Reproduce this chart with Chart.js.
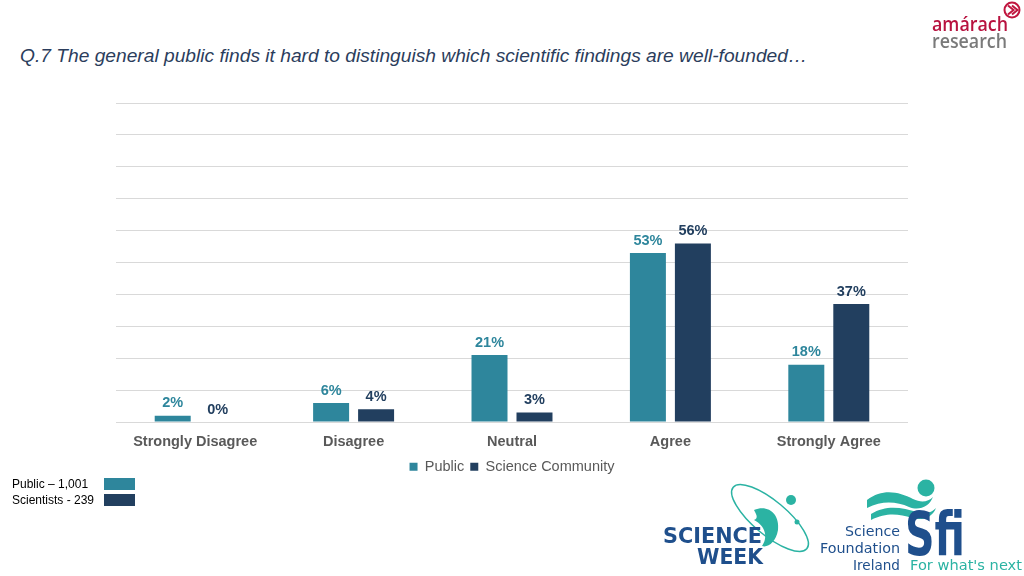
<!DOCTYPE html>
<html>
<head>
<meta charset="utf-8">
<script src="https://cdn.jsdelivr.net/npm/chart.js@4"></script>
<style>
  html, body { margin:0; padding:0; background:#fff; }
  body { width:1024px; height:576px; position:relative; overflow:hidden; font-family:"Liberation Sans", Arial, sans-serif; }
  #chartWrap { position:absolute; left:0; top:0; width:1024px; height:484px; }
  .title { position:absolute; left:20px; top:45px; font-size:19.2px; font-style:italic; color:#2b3d5c; white-space:nowrap; }
  .side { position:absolute; left:12px; font-size:12px; color:#000; }
  .swatch { position:absolute; left:104px; width:31px; height:12px; }
  .logo { position:absolute; }
</style>
</head>
<body>
<div class="title">Q.7 The general public finds it hard to distinguish which scientific findings are well-founded…</div>

<div id="chartWrap"><canvas id="chart" width="1024" height="484"></canvas></div>

<div class="side" style="top:477px">Public – 1,001</div>
<div class="side" style="top:493px">Scientists - 239</div>
<div class="swatch" style="top:478px;background:#2e869c"></div>
<div class="swatch" style="top:494px;background:#223f5f"></div>

<!-- amarach research logo -->
<svg class="logo" style="left:920px;top:0" width="104" height="56">
  <circle cx="92" cy="10" r="7.5" fill="none" stroke="#c0163f" stroke-width="2"/>
  <path d="M88 5.5 L93.5 10 L88 14.5 M92 5.5 L97.5 10 L92 14.5" fill="none" stroke="#c0163f" stroke-width="2"/>
  <text x="12" y="31" font-family="Open Sans" font-weight="600" font-size="19" fill="#b8123f" textLength="76" lengthAdjust="spacingAndGlyphs">amárach</text>
  <text x="12" y="48" font-family="Open Sans" font-weight="600" font-size="19" fill="#7a7a7a" textLength="75" lengthAdjust="spacingAndGlyphs">research</text>
</svg>

<!-- science week logo -->
<svg class="logo" style="left:660px;top:480px" width="160" height="96">
  <ellipse cx="110" cy="38" rx="48" ry="17" transform="rotate(40 110 38)" fill="none" stroke="#2bb3a3" stroke-width="1.5"/>
  <path d="M94 30 C 108 24 120 34 118 50 C 116 62 108 68 102 66 C 108 58 106 46 94 40 C 99 38 96 34 94 30 Z" fill="#2bb3a3"/>
  <circle cx="131" cy="20" r="5" fill="#2bb3a3"/>
  <circle cx="137" cy="42" r="2.5" fill="#2bb3a3"/>
  <text x="3" y="63" font-family="DejaVu Sans" font-weight="bold" font-size="21" fill="#1f4f8c" textLength="99" lengthAdjust="spacingAndGlyphs">SCIENCE</text>
  <text x="37" y="84" font-family="DejaVu Sans" font-weight="bold" font-size="21" fill="#1f4f8c" textLength="66" lengthAdjust="spacingAndGlyphs">WEEK</text>
</svg>

<!-- sfi logo -->
<svg class="logo" style="left:815px;top:472px" width="209" height="104">
  <path d="M52 28 C 68 16 84 20 98 27 C 106 31 113 30 118 25 C 114 35 104 39 94 35 C 82 30 68 28 52 36 Z" fill="#2bb3a3"/>
  <path d="M56 42 C 72 32 88 36 102 40 C 111 43 117 40 121 36 C 117 46 107 49 97 46 C 84 42 72 40 56 48 Z" fill="#2bb3a3"/>
  <circle cx="111" cy="16" r="8.5" fill="#2bb3a3"/>
  <text x="85" y="64" text-anchor="end" font-family="DejaVu Sans" font-size="14.5" fill="#1f4f8c" textLength="55" lengthAdjust="spacingAndGlyphs">Science</text>
  <text x="85" y="81" text-anchor="end" font-family="DejaVu Sans" font-size="14.5" fill="#1f4f8c" textLength="80" lengthAdjust="spacingAndGlyphs">Foundation</text>
  <text x="85" y="98" text-anchor="end" font-family="DejaVu Sans" font-size="14.5" fill="#1f4f8c" textLength="47" lengthAdjust="spacingAndGlyphs">Ireland</text>
  <text x="90" y="83" font-family="DejaVu Sans" font-weight="bold" font-size="60" fill="#1f4f8c" textLength="60" lengthAdjust="spacingAndGlyphs">Sfi</text>
  <text x="95" y="98" font-family="DejaVu Sans" font-size="14.5" fill="#2bb3a3" textLength="112" lengthAdjust="spacingAndGlyphs">For what's next</text>
</svg>

<script>
const categories = ["Strongly Disagree", "Disagree", "Neutral", "Agree", "Strongly Agree"];
const publicVals = [2, 6, 21, 53, 18];
const scienceVals = [0, 4, 3, 56, 37];
const seriesNames = ["Public", "Science Community"];
const colors = ["#2e869c", "#223f5f"];

// value labels above each bar, coloured like the series
const barLabels = {
  id: "barLabels",
  afterDatasetsDraw(chart){
    const ctx = chart.ctx;
    ctx.save();
    ctx.font = "bold 14.5px 'Liberation Sans', Arial, sans-serif";
    ctx.textAlign = "center";
    ctx.textBaseline = "bottom";
    chart.data.datasets.forEach((ds, i)=>{
      const meta = chart.getDatasetMeta(i);
      ctx.fillStyle = ds.backgroundColor;
      meta.data.forEach((bar, j)=>{
        ctx.fillText(ds.data[j] + "%", bar.x, bar.y - 5);
      });
    });
    ctx.restore();
  }
};

new Chart(document.getElementById("chart"), {
  type: "bar",
  data: {
    labels: categories,
    datasets: [
      { label: seriesNames[0], data: publicVals, backgroundColor: colors[0] },
      { label: seriesNames[1], data: scienceVals, backgroundColor: colors[1] }
    ]
  },
  options: {
    responsive: false,
    animation: false,
    categoryPercentage: 0.568,
    barPercentage: 0.8,
    layout: { padding: { left: 116, right: 116, top: 103, bottom: 0 } },
    scales: {
      x: {
        grid: { display: false },
        border: { display: false },
        ticks: { color: "#595959", font: { size: 14.5, weight: "bold", family: "'Liberation Sans', Arial, sans-serif" }, padding: 3 }
      },
      y: {
        min: 0, max: 100,
        ticks: { display: false, stepSize: 10 },
        grid: { color: "#d9d9d9", drawTicks: false },
        border: { display: false }
      }
    },
    plugins: {
      legend: {
        position: "bottom",
        labels: {
          usePointStyle: true, pointStyle: "rect", boxWidth: 8, boxHeight: 8,
          color: "#595959", font: { size: 14.5, family: "'Liberation Sans', Arial, sans-serif" }, padding: 6
        }
      },
      tooltip: { enabled: false }
    }
  },
  plugins: [barLabels]
});
</script>
</body>
</html>
